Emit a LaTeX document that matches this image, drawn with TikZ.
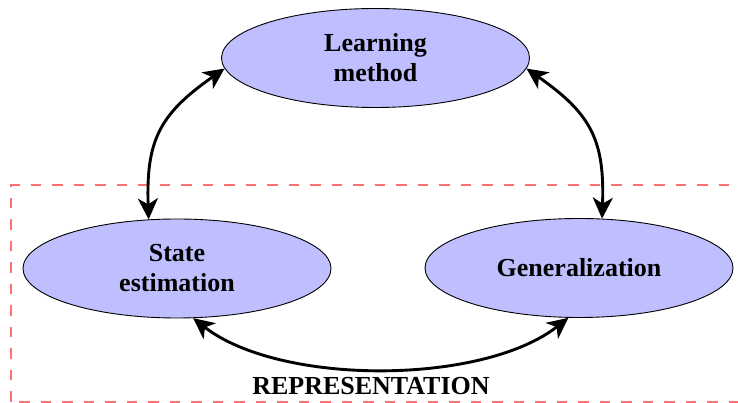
\documentclass[tikz,border=0pt]{standalone}
\usepackage{fontspec}
\setmainfont{Liberation Serif}
\usetikzlibrary{arrows.meta,shapes.geometric}

\definecolor{stagefill}{RGB}{191,191,255}
\definecolor{dashred}{RGB}{255,112,112}

\tikzset{
  stage/.style={ellipse, draw=black, line width=0.9pt, fill=stagefill,
    minimum width=308pt, minimum height=99pt, inner sep=0pt,
    align=center, font=\fontsize{26}{30}\selectfont\bfseries},
  link/.style={line width=2.9pt,
    {Stealth[length=21pt,width=20pt,inset=6pt]}-{Stealth[length=21pt,width=20pt,inset=6pt]}},
  region/.style={draw=dashred, line width=1.3pt, dash pattern=on 10.5pt off 11pt},
  caption/.style={font=\fontsize{26}{30}\selectfont\bfseries}
}

\begin{document}
\begin{tikzpicture}[x=1pt,y=1pt]
  \useasboundingbox (0,0) rectangle (738,403);
  \clip (0,0) rectangle (738,403);

  % representation region
  \draw[region] (11,1) rectangle (760,218);

  % the three stages
  \node[stage] (learn) at (375.5,345) {Learning\\method};
  \node[stage] (se) at (177,134.5) {State\\estimation};
  \node[stage] (gen) at (579,135) {Generalization};

  \node[caption, anchor=base] (rep) at (371,8) {REPRESENTATION};

  % two-way links
  \draw[link] (se.120) to[out=92, in=215, looseness=1.2] (learn.184);
  \draw[link] (gen.65) to[out=88, in=-35, looseness=1.2] (learn.356);
  \draw[link] (se.288) to[out=-38, in=218, looseness=0.75] (gen.258);
\end{tikzpicture}
\end{document}
